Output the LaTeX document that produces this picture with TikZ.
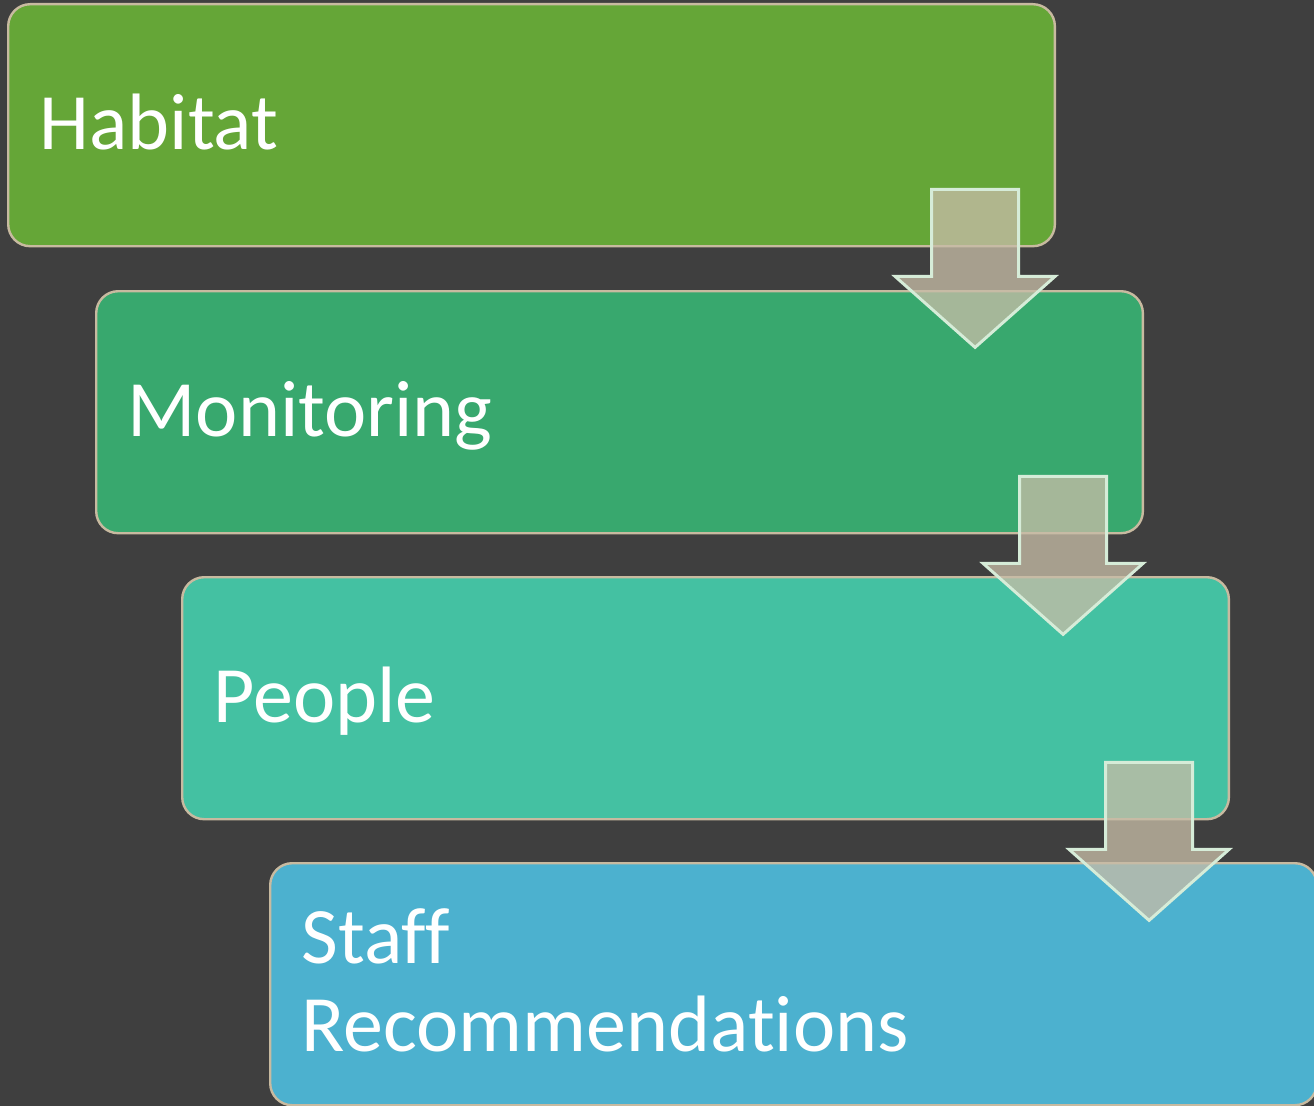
\documentclass[tikz,border=0pt]{standalone}
\usepackage{fontspec}
\setmainfont{Carlito}[Ligatures=NoCommon]
\usetikzlibrary{calc}

\definecolor{slidebg}{RGB}{63,63,63}
\definecolor{habitatgreen}{RGB}{101,166,55}
\definecolor{monitorgreen}{RGB}{56,168,110}
\definecolor{peopleteal}{RGB}{68,193,162}
\definecolor{staffblue}{RGB}{76,177,207}
\definecolor{boxedge}{RGB}{200,186,160}
\definecolor{arrowfill}{RGB}{199,188,167}
\definecolor{arrowedge}{RGB}{214,236,216}

\tikzset{
  stage/.style={draw=boxedge, line width=1.8pt, rounded corners=16.5pt,
    anchor=north west, minimum width=785pt, minimum height=181.5pt,
    inner xsep=23.5pt, text width=738pt, align=left, text height=36pt,
    text=white, font=\fontsize{60}{66}\selectfont},
  oneline/.style={text depth=0pt},
  flowarrow/.style={draw=arrowedge, line width=2.2pt, fill=arrowfill, fill opacity=0.77, line join=miter}
}

\begin{document}
\begin{tikzpicture}[x=0.75pt,y=0.75pt,yscale=-1,xscale=1]
%Background
\fill [slidebg] (0,0) rectangle (1314,1106);
\useasboundingbox (0,0) rectangle (1314,1106);

%Boxes
\node [stage, oneline, fill=habitatgreen] (habitat) at (7,3) {Habitat};
\node [stage, oneline, fill=monitorgreen] (monitoring) at (95,290) {Monitoring};
\node [stage, oneline, fill=peopleteal] (people) at (181,576) {People};
\node [stage, fill=staffblue] (staff) at (269,862) {Staff\\Recommendations};

%Arrows between the boxes
\foreach \from in {habitat,monitoring,people}{
  \coordinate (\from-out) at ($(\from.south east)+(-81,-58)$);
  \draw [flowarrow] ($(\from-out)+(-43.5,0)$) -- ++(87,0) -- ++(0,87) -- ++(36.5,0)
    -- ($(\from-out)+(0,158)$) -- ++(-80,-71) -- ++(36.5,0) -- cycle;
}

\end{tikzpicture}
\end{document}
